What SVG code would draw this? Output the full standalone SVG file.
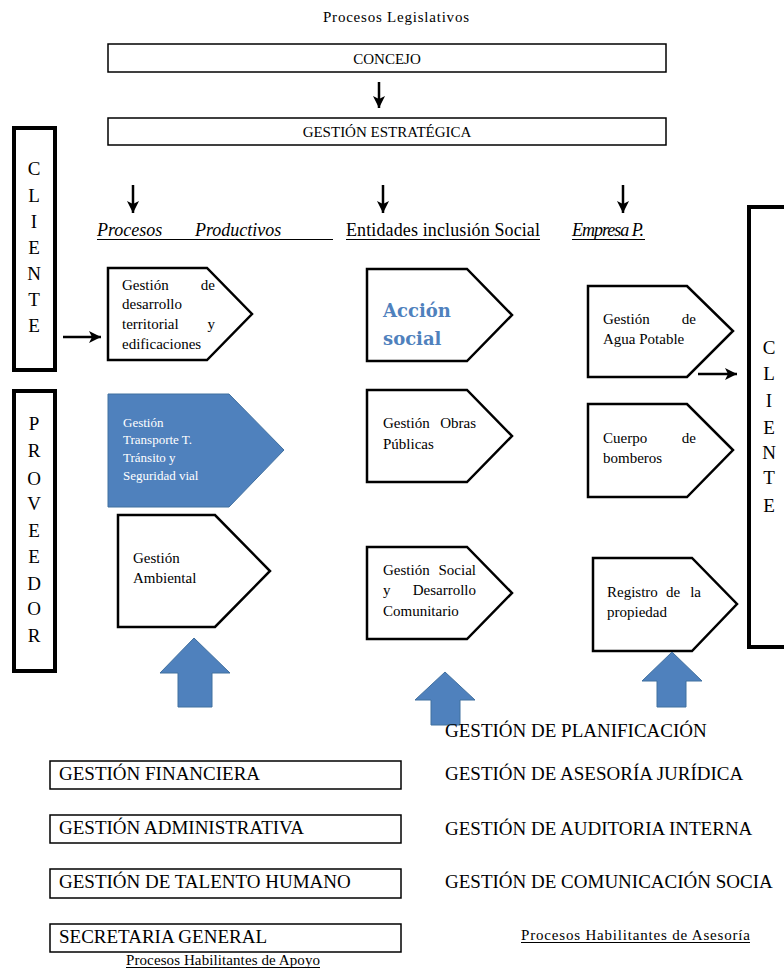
<svg xmlns="http://www.w3.org/2000/svg" width="784" height="971" viewBox="0 0 784 971" font-family="'Liberation Serif', Tinos, 'DejaVu Serif', 'Noto Serif', 'Times New Roman', Times, serif">
<defs>
<marker id="ah" markerUnits="userSpaceOnUse" markerWidth="13" markerHeight="13" viewBox="0 0 13 13" refX="12" refY="6.5" orient="auto">
<path d="M0,0.5 L12,6.5 L0,12.5 L3,6.5 z" fill="#000"/>
</marker>
<style>
text{font-family:'Liberation Serif',Tinos,'DejaVu Serif','Noto Serif','Times New Roman',Times,serif;fill:#000}
.box{fill:#fff;stroke:#000;stroke-width:1.5}
.side{fill:#fff;stroke:#000;stroke-width:4}
.pent{fill:#fff;stroke:#000;stroke-width:2.5;stroke-linejoin:miter}
.blue{fill:#4F81BD;stroke:#41709F;stroke-width:1}
.conn{stroke:#000;stroke-width:2.5;fill:none;marker-end:url(#ah)}
.t15{font-size:15px}
.t18{font-size:18px}
.big{font-size:19px}
.let{font-size:19px;text-anchor:middle}
.wt{font-size:13px;fill:#fff}
.acc{font-family:'DejaVu Serif','Liberation Serif',serif;font-size:18px;font-weight:bold;fill:#4F81BD}
.ul{stroke:#000;stroke-width:1}
</style>
</defs>
<rect width="784" height="971" fill="#fff"/>

<g id="title"><text x="396" y="22" class="t15" text-anchor="middle" textLength="146">Procesos  Legislativos</text></g>

<g id="concejo"><rect class="box" x="108" y="44" width="558" height="28"/><text x="387" y="64" class="t15" text-anchor="middle">CONCEJO</text></g>
<g id="gestion-estrategica"><rect class="box" x="108" y="118" width="558" height="27"/><text x="387" y="137" class="t15" text-anchor="middle">GESTIÓN ESTRATÉGICA</text></g>

<g id="cliente-left"><rect class="side" x="14" y="128" width="41" height="242"/>
<text class="let" x="34" y="175">C</text><text class="let" x="34" y="202">L</text><text class="let" x="34" y="228">I</text><text class="let" x="34" y="254">E</text><text class="let" x="34" y="280">N</text><text class="let" x="34" y="306">T</text><text class="let" x="34" y="332">E</text></g>

<g id="proveedor"><rect class="side" x="14" y="391" width="41" height="280"/>
<text class="let" x="34" y="430">P</text><text class="let" x="34" y="457">R</text><text class="let" x="34" y="485">O</text><text class="let" x="34" y="510">V</text><text class="let" x="34" y="537">E</text><text class="let" x="34" y="563">E</text><text class="let" x="34" y="590">D</text><text class="let" x="34" y="615">O</text><text class="let" x="34" y="642">R</text></g>

<g id="cliente-right"><rect class="side" x="749" y="207" width="44" height="440"/>
<text class="let" x="769" y="354">C</text><text class="let" x="769" y="380">L</text><text class="let" x="769" y="407">I</text><text class="let" x="769" y="434">E</text><text class="let" x="769" y="459">N</text><text class="let" x="769" y="484">T</text><text class="let" x="769" y="512">E</text></g>

<g id="headers">
<text x="97" y="236" class="t18" font-style="italic">Procesos</text>
<text x="195" y="236" class="t18" font-style="italic">Productivos</text>
<line class="ul" x1="97" y1="239.5" x2="333" y2="239.5"/>
<text x="346" y="236" class="t18" textLength="194">Entidades inclusión Social</text>
<line class="ul" x1="346" y1="239.5" x2="540" y2="239.5"/>
<text x="572" y="236" class="t18" font-style="italic" textLength="72">Empresa P.</text>
<line class="ul" x1="572" y1="239.5" x2="645" y2="239.5"/>
</g>

<g id="p-desarrollo"><polygon class="pent" points="108,268 207,268 252,314 207,360 108,360"/>
<text class="t15" x="122" y="290">Gestión</text><text class="t15" x="215" y="290" text-anchor="end">de</text>
<text class="t15" x="122" y="309">desarrollo</text>
<text class="t15" x="122" y="329">territorial</text><text class="t15" x="215" y="329" text-anchor="end">y</text>
<text class="t15" x="122" y="349">edificaciones</text></g>

<g id="p-transporte"><polygon class="blue" points="108,394 229,394 284,450 229,507 108,507"/>
<text class="wt" x="123" y="427">Gestión</text>
<text class="wt" x="123" y="444">Transporte T.</text>
<text class="wt" x="123" y="462">Tránsito y</text>
<text class="wt" x="123" y="480">Seguridad vial</text></g>

<g id="p-ambiental"><polygon class="pent" points="118,515 215,515 270,571 215,627 118,627"/>
<text class="t15" x="133" y="563">Gestión</text>
<text class="t15" x="133" y="583">Ambiental</text></g>

<g id="p-accion"><polygon class="pent" points="367,269 467,269 512,315 467,361 367,361"/>
<text class="acc" x="383" y="317">Acción</text>
<text class="acc" x="383" y="345">social</text></g>

<g id="p-obras"><polygon class="pent" points="367,390 467,390 512,436 467,482 367,482"/>
<text class="t15" x="383" y="428">Gestión</text><text class="t15" x="476" y="428" text-anchor="end">Obras</text>
<text class="t15" x="383" y="449">Públicas</text></g>

<g id="p-social"><polygon class="pent" points="367,547 467,547 512,593 467,639 367,639"/>
<text class="t15" x="383" y="575">Gestión</text><text class="t15" x="476" y="575" text-anchor="end">Social</text>
<text class="t15" x="383" y="595">y</text><text class="t15" x="476" y="595" text-anchor="end">Desarrollo</text>
<text class="t15" x="383" y="616">Comunitario</text></g>

<g id="p-agua"><polygon class="pent" points="588,286 687,286 733,331 687,377 588,377"/>
<text class="t15" x="603" y="324">Gestión</text><text class="t15" x="696" y="324" text-anchor="end">de</text>
<text class="t15" x="603" y="344">Agua Potable</text></g>

<g id="p-bomberos"><polygon class="pent" points="588,404 687,404 733,450 687,497 588,497"/>
<text class="t15" x="603" y="443">Cuerpo</text><text class="t15" x="696" y="443" text-anchor="end">de</text>
<text class="t15" x="603" y="463">bomberos</text></g>

<g id="p-registro"><polygon class="pent" points="593,558 692,558 737,604 692,651 593,651"/>
<text class="t15" x="607" y="597">Registro</text><text class="t15" x="673" y="597" text-anchor="middle">de</text><text class="t15" x="701" y="597" text-anchor="end">la</text>
<text class="t15" x="607" y="617">propiedad</text></g>

<g id="connectors">
<line class="conn" x1="379" y1="82" x2="379" y2="108"/>
<line class="conn" x1="133" y1="185" x2="133" y2="213"/>
<line class="conn" x1="383" y1="185" x2="383" y2="213"/>
<line class="conn" x1="623" y1="185" x2="623" y2="213"/>
<line class="conn" x1="63" y1="337" x2="101" y2="337"/>
<line class="conn" x1="698" y1="374" x2="737" y2="374"/>
</g>

<g id="block-arrows">
<polygon class="blue" points="194,638 230,673 212,673 212,707 178,707 178,673 160,673"/>
<polygon class="blue" points="445,672 475,700 460,700 460,725 431,725 431,700 415,700"/>
<polygon class="blue" points="672,652 702,681 686,681 686,707 657,707 657,681 642,681"/>
</g>

<g id="apoyo">
<rect class="box" x="50" y="761" width="351" height="28"/><text class="big" x="59" y="780">GESTIÓN FINANCIERA</text>
<rect class="box" x="50" y="815" width="351" height="28"/><text class="big" x="59" y="834">GESTIÓN ADMINISTRATIVA</text>
<rect class="box" x="50" y="869" width="351" height="29"/><text class="big" x="59" y="888">GESTIÓN DE TALENTO HUMANO</text>
<rect class="box" x="50" y="924" width="351" height="28"/><text class="big" x="59" y="943">SECRETARIA GENERAL</text>
<text class="t15" x="126" y="965" textLength="194">Procesos Habilitantes de Apoyo</text>
<line class="ul" x1="126" y1="967.5" x2="320" y2="967.5"/>
</g>

<g id="asesoria">
<text class="big" x="445" y="737">GESTIÓN DE PLANIFICACIÓN</text>
<text class="big" x="445" y="780">GESTIÓN DE ASESORÍA JURÍDICA</text>
<text class="big" x="445" y="835">GESTIÓN DE AUDITORIA INTERNA</text>
<text class="big" x="445" y="888">GESTIÓN DE COMUNICACIÓN SOCIA</text>
<text class="t15" x="521" y="940" textLength="229">Procesos  Habilitantes de Asesoría</text>
<line class="ul" x1="521" y1="942.5" x2="750" y2="942.5"/>
</g>
</svg>
